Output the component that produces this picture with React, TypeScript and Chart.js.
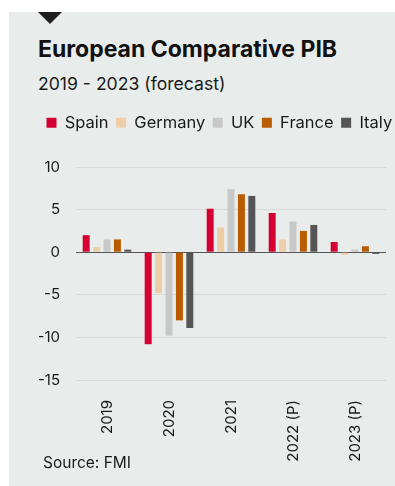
import React, { useEffect, useRef } from "react";
import { Chart, registerables } from "chart.js";

Chart.register(...registerables);

const categories = ["2019", "2020", "2021", "2022 (P)", "2023 (P)"];
const seriesNames = ["Spain", "Germany", "UK", "France", "Italy"];
const spain = [2.0, -10.8, 5.1, 4.6, 1.2];
const germany = [0.6, -4.8, 2.9, 1.5, -0.3];
const uk = [1.5, -9.8, 7.4, 3.6, 0.3];
const france = [1.5, -8.0, 6.8, 2.5, 0.7];
const italy = [0.3, -8.9, 6.6, 3.2, -0.2];
const colors = ["#d50032", "#efcda6", "#c8c8c8", "#b95c00", "#555555"];
const yTicks = [-15, -10, -5, 0, 5, 10];

const FONT = "Inter, 'Noto Sans', sans-serif";

const legendGap = {
  id: "legendGap",
  beforeInit(chart: any) {
    const legend = chart.legend;
    if (!legend) return;
    const fit = legend.fit;
    legend.fit = function () {
      fit.call(this);
      this.height += 26;
    };
  },
};

export default function App() {
  const ref = useRef<HTMLCanvasElement | null>(null);

  useEffect(() => {
    if (!ref.current) return;
    const values = [spain, germany, uk, france, italy];
    const chart = new Chart(ref.current, {
      type: "bar",
      data: {
        labels: categories,
        datasets: seriesNames.map((name, i) => ({
          label: name,
          data: values[i],
          backgroundColor: colors[i],
          borderWidth: 0,
          categoryPercentage: 0.84,
          barPercentage: 0.67,
        })),
      },
      options: {
        animation: false,
        responsive: false,
        maintainAspectRatio: false,
        layout: { padding: 0 },
        plugins: {
          legend: {
            display: true,
            position: "top",
            align: "start",
            labels: {
              boxWidth: 10,
              boxHeight: 10,
              padding: 7.5,
              color: "#1a1a1a",
              font: { family: FONT, size: 16.5 },
            },
          },
          tooltip: { enabled: false },
          title: { display: false },
        },
        scales: {
          x: {
            grid: { display: false },
            border: { display: false },
            ticks: {
              autoSkip: false,
              maxRotation: 90,
              minRotation: 90,
              padding: 12,
              color: "#1a1a1a",
              font: { family: FONT, size: 15 },
            },
            afterFit(scale: any) {
              scale.height = 87;
            },
          },
          y: {
            min: yTicks[0],
            max: yTicks[yTicks.length - 1],
            afterBuildTicks(scale: any) {
              scale.ticks = yTicks.map((v) => ({ value: v }));
            },
            grid: {
              drawTicks: false,
              color: (ctx: any) => (ctx.tick && ctx.tick.value === 0 ? "#555555" : "#d6dbd9"),
              lineWidth: 1,
            },
            border: { display: false },
            ticks: {
              padding: 16,
              color: "#1a1a1a",
              font: { family: FONT, size: 15 },
            },
            afterFit(scale: any) {
              scale.width = 37;
            },
          },
          y2: {
            type: "linear",
            position: "right",
            display: true,
            grid: { display: false },
            border: { display: false },
            ticks: { display: false },
            afterFit(scale: any) {
              scale.width = 33;
            },
          },
        },
      },
      plugins: [legendGap],
    } as any);
    return () => chart.destroy();
  }, []);

  return (
    <div style={{ position: "fixed", left: 0, top: 0, width: 395, height: 486, background: "#ffffff", overflow: "hidden", fontFamily: FONT }}>
      <div style={{ position: "absolute", left: 9, top: 12, width: 386, height: 474, background: "#e8edeb", overflow: "hidden" }}>
        <canvas ref={ref} width={380} height={360} style={{ position: "absolute", left: 30, top: 95, width: 380, height: 360 }} />
      </div>
      <div style={{ position: "absolute", left: 38, top: 12, width: 0, height: 0, borderLeft: "12.5px solid transparent", borderRight: "12.5px solid transparent", borderTop: "12px solid #1e1e1e" }} />
      <div style={{ position: "absolute", left: 38, top: 38.4, fontSize: 23, fontWeight: 700, lineHeight: 1, color: "#111", whiteSpace: "nowrap" }}>
        European Comparative PIB
      </div>
      <div style={{ position: "absolute", left: 38, top: 74.8, fontSize: 17.6, fontWeight: 400, lineHeight: 1, color: "#1a1a1a", whiteSpace: "nowrap" }}>
        2019 - 2023 (forecast)
      </div>
      <div style={{ position: "absolute", left: 43, top: 454.9, fontSize: 15.5, fontWeight: 400, lineHeight: 1, color: "#1a1a1a", whiteSpace: "nowrap" }}>
        Source: FMI
      </div>
    </div>
  );
}
